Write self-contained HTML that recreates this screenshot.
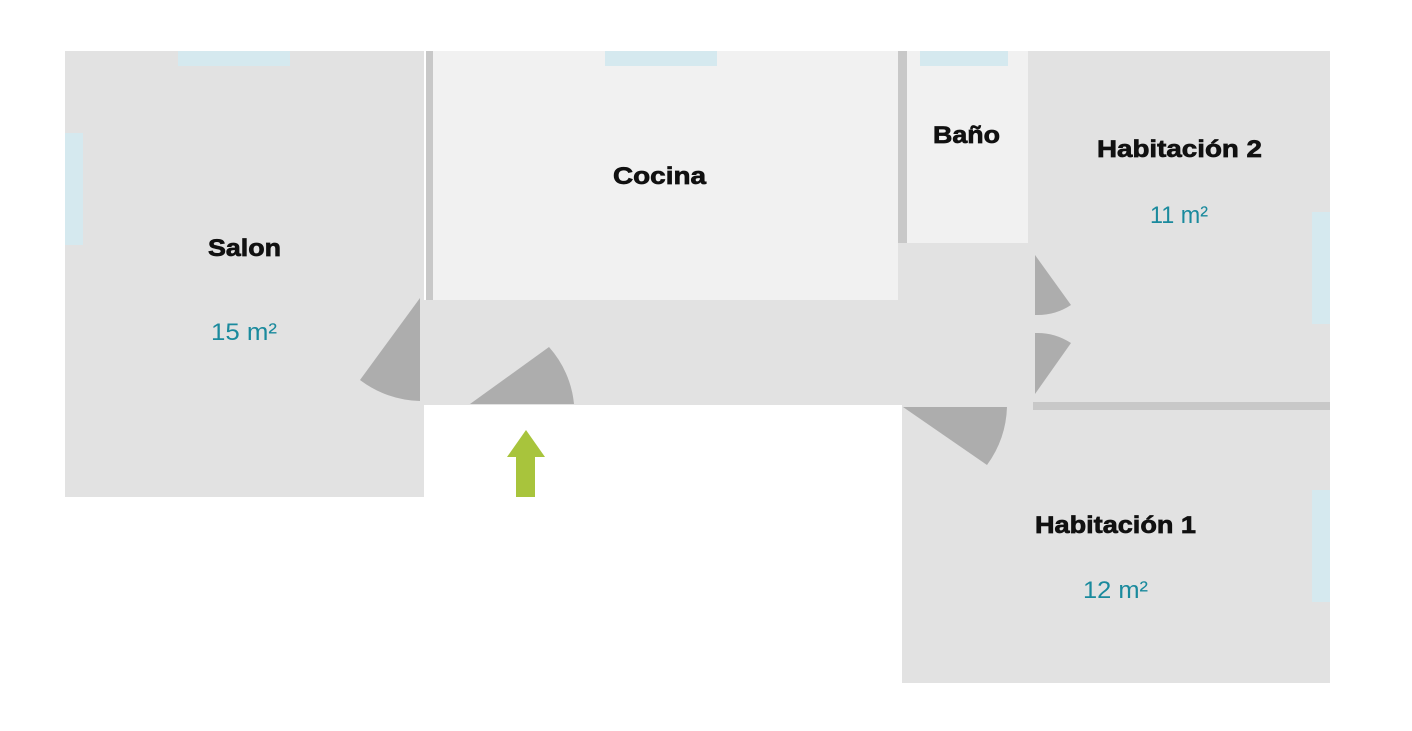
<!DOCTYPE html>
<html><head><meta charset="utf-8"><style>
html,body{margin:0;padding:0;background:#fff;width:1412px;height:731px;overflow:hidden}
svg{display:block}
.b{font-family:"Liberation Sans",sans-serif;font-weight:bold;font-size:24px;fill:#111;stroke:#111;stroke-width:0.7px}
.v{font-family:"Liberation Sans",sans-serif;font-size:24px;fill:#1a8a9d}
</style></head><body>
<svg width="1412" height="731" viewBox="0 0 1412 731">
<rect width="1412" height="731" fill="#fff"/>
<rect x="65" y="51" width="359" height="446" fill="#e2e2e2"/>
<rect x="432" y="51" width="466" height="249" fill="#f1f1f1"/>
<rect x="426" y="51" width="7" height="249" fill="#c8c8c8"/>
<rect x="898" y="51" width="9" height="192" fill="#c8c8c8"/>
<rect x="907" y="51" width="121" height="192" fill="#f1f1f1"/>
<rect x="420" y="300" width="613" height="105" fill="#e2e2e2"/>
<rect x="898" y="243" width="135" height="60" fill="#e2e2e2"/>
<rect x="1028" y="51" width="302" height="352" fill="#e2e2e2"/>
<rect x="902" y="405" width="428" height="278" fill="#e2e2e2"/>
<rect x="1033" y="402" width="297" height="8" fill="#c8c8c8"/>
<g fill="#d5e9ef">
<rect x="178" y="51" width="112" height="15"/>
<rect x="65" y="133" width="18" height="112"/>
<rect x="605" y="51" width="112" height="15"/>
<rect x="920" y="51" width="88" height="15"/>
<rect x="1312" y="212" width="18" height="112"/>
<rect x="1312" y="490" width="18" height="112"/>
</g>
<g fill="#adadad">
<path d="M420,298 L360,380 A103,103 0 0,0 420,401 Z"/>
<path d="M470,404 L549,347 A100,100 0 0,1 574,404 Z"/>
<path d="M1035,255 L1071,305 A61,61 0 0,1 1035,315 Z"/>
<path d="M1035,394 L1071,343 A62,62 0 0,0 1035,333 Z"/>
<path d="M903,407 L987,465 A104,104 0 0,0 1007,407 Z"/>
</g>
<path d="M516,497 L516,457 L507,457 L526,430 L545,457 L535,457 L535,497 Z" fill="#a8c43c"/>
<text class="b" x="208" y="256" textLength="73" lengthAdjust="spacingAndGlyphs">Salon</text>
<text class="v" x="211" y="340" textLength="66" lengthAdjust="spacingAndGlyphs">15 m²</text>
<text class="b" x="613" y="184" textLength="93" lengthAdjust="spacingAndGlyphs">Cocina</text>
<text class="b" x="933" y="143" textLength="67" lengthAdjust="spacingAndGlyphs">Baño</text>
<text class="b" x="1097" y="157" textLength="165" lengthAdjust="spacingAndGlyphs">Habitación 2</text>
<text class="v" x="1150" y="223" textLength="58" lengthAdjust="spacingAndGlyphs">11 m²</text>
<text class="b" x="1035" y="533" textLength="161" lengthAdjust="spacingAndGlyphs">Habitación 1</text>
<text class="v" x="1083" y="598" textLength="65" lengthAdjust="spacingAndGlyphs">12 m²</text>
</svg>
</body></html>
